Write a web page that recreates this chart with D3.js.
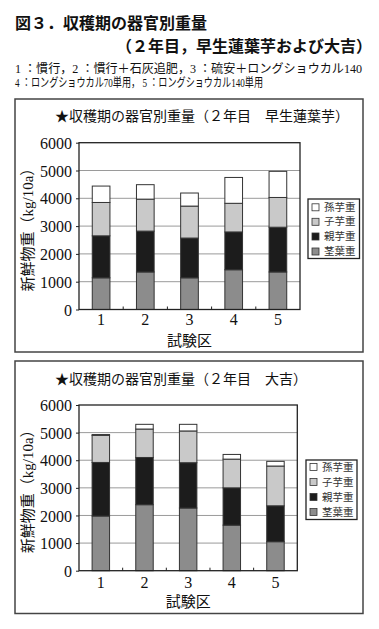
<!DOCTYPE html>
<html><head><meta charset="utf-8">
<script src="https://cdn.jsdelivr.net/npm/d3@7"></script>
<style>
html,body{margin:0;padding:0;background:#fff;}
svg{display:block;}
</style></head>
<body>
<script>
// ---- data ----
const categories = ["1","2","3","4","5"];
const seriesNames = ["茎葉重","親芋重","子芋重","孫芋重"];
const seriesColors = ["#8c8c8c","#1c1c1c","#c9c9c9","#ffffff"];
const yTicks = [0,1000,2000,3000,4000,5000,6000];

// 早生蓮葉芋
const wase_stem   = [1140,1350,1140,1430,1350];
const wase_parent = [1510,1470,1430,1360,1610];
const wase_child  = [1200,1150,1150,1030,1070];
const wase_grand  = [590,520,470,930,940];
// 大吉
const daikichi_stem   = [1980,2390,2270,1650,1050];
const daikichi_parent = [1940,1710,1640,1350,1300];
const daikichi_child  = [980,1030,1150,1040,1440];
const daikichi_grand  = [30,170,240,170,170];

const headerLines = [
  "図３．収穫期の器官別重量",
  "（２年目，早生蓮葉芋および大吉）",
  "1 ：慣行，2 ：慣行＋石灰追肥，3 ：硫安＋ロングショウカル140",
  "4 ：ロングショウカル70単用， 5 ：ロングショウカル140単用"
];
const chartTitles = ["★収穫期の器官別重量（２年目　早生蓮葉芋）","★収穫期の器官別重量（２年目　大吉）"];
const yLabel = "新鮮物重（kg/10a）";
const xLabel = "試験区";

const W = 379, H = 629;
const svg = d3.select("body").append("svg").attr("width",W).attr("height",H);
const CJK = "'Noto Sans CJK JP', sans-serif";
const SERIF_CJK = "'Liberation Serif','Noto Sans CJK JP', serif";

// header
svg.append("text").attr("x",15).attr("y",29).attr("font-family",CJK).attr("font-weight","bold")
  .attr("font-size",16).attr("fill","#111").text(headerLines[0]);
svg.append("text").attr("x",116).attr("y",52).attr("font-family",CJK).attr("font-weight","bold")
  .attr("font-size",16).attr("fill","#111").text(headerLines[1]);
const h3 = svg.append("text").attr("x",15).attr("y",73).attr("font-family",SERIF_CJK)
  .attr("font-size",12.5).attr("fill","#111").text(headerLines[2]);
const h4 = svg.append("text").attr("x",15).attr("y",86.5).attr("font-family",SERIF_CJK)
  .attr("font-size",12.5).attr("fill","#111").text(headerLines[3]);
// fit to reference widths only if natural width exceeds
[[h3,347],[h4,248]].forEach(([t,w])=>{
  const nw = t.node().getComputedTextLength();
  if (Math.abs(nw-w) > 4) t.attr("textLength",w).attr("lengthAdjust","spacingAndGlyphs");
});

const charts = [
  {title:chartTitles[0], data:[wase_stem,wase_parent,wase_child,wase_grand],
   box:[15,99,363,352], plot:[79,142.7,300,309.5], titleY:121, xLabY:325, xTitY:346,
   legend:[308,199,359.5,258.5], legendY:[207.3,221.8,236.5,251.5]},
  {title:chartTitles[1], data:[daikichi_stem,daikichi_parent,daikichi_child,daikichi_grand],
   box:[15,361,363,613.5], plot:[79,405,297.3,570.7], titleY:384, xLabY:588, xTitY:607,
   legend:[306,460,357,519.5], legendY:[467,482,497,512]}
];

charts.forEach(c => {
  const g = svg.append("g");
  g.append("rect").attr("x",c.box[0]).attr("y",c.box[1]).attr("width",c.box[2]-c.box[0])
    .attr("height",c.box[3]-c.box[1]).attr("fill","none").attr("stroke","#444").attr("stroke-width",1.5);
  g.append("text").attr("x",55).attr("y",c.titleY).attr("font-family",CJK).attr("font-size",14)
    .attr("fill","#111").text(c.title);

  const [pl,pt,pr,pb] = c.plot;
  const x = d3.scaleBand().domain(categories).range([pl,pr]).paddingInner(0.6).paddingOuter(0.3);
  const y = d3.scaleLinear().domain([0,6000]).range([pb,pt]);

  g.selectAll(".grid").data(yTicks.slice(1,-1)).enter().append("line")
    .attr("x1",pl).attr("x2",pr).attr("y1",d=>y(d)).attr("y2",d=>y(d))
    .attr("stroke","#9a9a9a").attr("stroke-width",1);

  const rows = categories.map((cat,i)=>{const o={cat}; seriesNames.forEach((s,j)=>o[s]=c.data[j][i]); return o;});
  const stacked = d3.stack().keys(seriesNames)(rows);
  stacked.forEach((layer,j)=>{
    g.selectAll(null).data(layer).enter().append("rect")
      .attr("x",d=>x(d.data.cat)).attr("width",x.bandwidth())
      .attr("y",d=>y(d[1])).attr("height",d=>y(d[0])-y(d[1]))
      .attr("fill",seriesColors[j]).attr("stroke","#333").attr("stroke-width",1);
  });

  g.append("rect").attr("x",pl).attr("y",pt).attr("width",pr-pl).attr("height",pb-pt)
    .attr("fill","none").attr("stroke","#222").attr("stroke-width",1.3);

  const ya = g.append("g").attr("transform",`translate(${pl},0)`)
    .call(d3.axisLeft(y).tickValues(yTicks).tickSize(3).tickFormat(d3.format("d")));
  ya.select(".domain").remove();
  ya.selectAll("line").attr("stroke","#222");
  ya.selectAll("text").attr("font-family","'Liberation Serif', serif").attr("font-size",16)
    .attr("fill","#111").attr("dx",-1).attr("dy","0.35em");

  const xa = g.append("g").attr("transform",`translate(0,${pb})`)
    .call(d3.axisBottom(x).tickSize(0));
  xa.select(".domain").remove();
  xa.selectAll("text").attr("font-family","'Liberation Serif', serif").attr("font-size",16)
    .attr("fill","#111").attr("y",c.xLabY-pb).attr("dy","0");
  const step = x.step();
  g.selectAll(null).data(categories.slice(1)).enter().append("line")
    .attr("x1",d=>x(d)-step*x.paddingInner()/2).attr("x2",d=>x(d)-step*x.paddingInner()/2)
    .attr("y1",pb).attr("y2",pb-3).attr("stroke","#222");

  g.append("text").attr("x",(pl+pr)/2).attr("y",c.xTitY).attr("text-anchor","middle")
    .attr("font-family",CJK).attr("font-size",15).attr("fill","#111").text(xLabel);
  g.append("text").attr("transform",`translate(33,${(pt+pb)/2}) rotate(-90)`).attr("text-anchor","middle")
    .attr("font-family",SERIF_CJK).attr("font-size",15).attr("fill","#111").text(yLabel);

  const [ll,lt,lr,lb] = c.legend;
  g.append("rect").attr("x",ll).attr("y",lt).attr("width",lr-ll).attr("height",lb-lt)
    .attr("fill","#fff").attr("stroke","#222").attr("stroke-width",1.3);
  const order = seriesNames.map((s,j)=>j).reverse();
  order.forEach((j,k)=>{
    const cy = c.legendY[k];
    g.append("rect").attr("x",ll+4).attr("y",cy-3.5).attr("width",7).attr("height",7)
      .attr("fill",seriesColors[j]).attr("stroke","#333").attr("stroke-width",0.8);
    g.append("text").attr("x",ll+16).attr("y",cy).attr("dy","0.35em").attr("font-family",CJK)
      .attr("font-size",10.5).attr("fill","#333").text(seriesNames[j]);
  });
});
</script>
</body></html>
